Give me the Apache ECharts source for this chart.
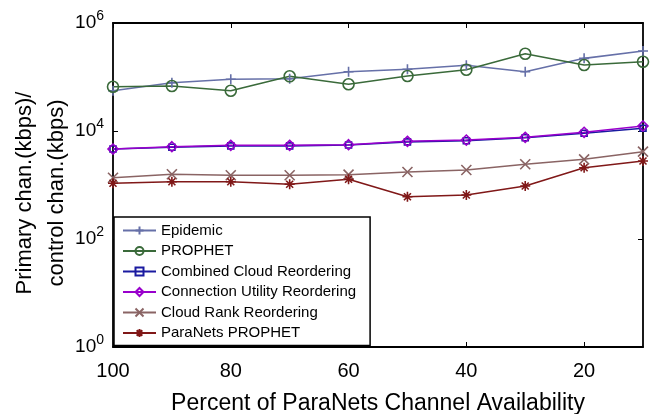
<!DOCTYPE html>
<html><head><meta charset="utf-8">
<script src="https://cdn.jsdelivr.net/npm/echarts@6/dist/echarts.min.js"></script>
<style>html,body{margin:0;padding:0;background:#fff}#c{width:650px;height:414px}</style>
</head><body><div id="c"></div>
<script>
const availability = [100, 90, 80, 70, 60, 50, 40, 30, 20, 10];
const epidemic = [55700, 78300, 90600, 93100, 125400, 139000, 164800, 125400, 221600, 302500];
const prophet = [66100, 68100, 55700, 103000, 73300, 104400, 136400, 270000, 166700, 191900];
const combinedCloud = [4640, 5000, 5300, 5300, 5500, 6300, 6600, 7500, 9060, 11220];
const connectionUtility = [4640, 5120, 5430, 5430, 5570, 6440, 6810, 7640, 9460, 12390];
const cloudRank = [1365, 1578, 1513, 1513, 1553, 1741, 1897, 2417, 2990, 4140];
const paraNetsProphet = [1075, 1150, 1150, 1030, 1275, 607, 653, 957, 2090, 2780];
const xTicks = [100, 80, 60, 40, 20];
const seriesNames = ['Epidemic', 'PROPHET', 'Combined Cloud Reordering', 'Connection Utility Reordering', 'Cloud Rank Reordering', 'ParaNets PROPHET'];

const font = '"Liberation Sans", Arial, sans-serif';
const pts = arr => availability.map((x, i) => [x, arr[i]]);
const plusPath = 'path://M5,0L5,10M0,5L10,5';
const crossPath = 'path://M0,0L10,10M10,0L0,10';
const starPath = 'path://M5,0L5,10M0,5L10,5M1.5,1.5L8.5,8.5M8.5,1.5L1.5,8.5';

function mk(name, data, color, symbol, size) {
  return {
    name, type: 'line', data: pts(data), symbol, symbolSize: size,
    lineStyle: { color, width: 1.6 },
    itemStyle: { color: 'rgba(0,0,0,0)', borderColor: color, borderWidth: 1.6 },
    emphasis: { disabled: true }, animation: false
  };
}

const chart = echarts.init(document.getElementById('c'));
chart.setOption({
  animation: false,
  grid: { left: 113, right: 7, top: 23, bottom: 67, outerBoundsMode: 'none', containLabel: false },
  legend: {
    orient: 'vertical', left: 114, top: 217,
    itemWidth: 33, itemHeight: 10, itemGap: 5.5,
    padding: [6, 14, 5, 8],
    backgroundColor: '#fff', borderColor: '#000', borderWidth: 1.5,
    textStyle: { fontFamily: font, fontSize: 15, color: '#000' },
    data: seriesNames
  },
  xAxis: [{
    type: 'value', inverse: true, min: 10, max: 100,
    name: 'Percent of ParaNets Channel Availability', nameLocation: 'middle', nameGap: 45,
    nameMoveOverlap: false,
    nameTextStyle: { fontFamily: font, fontSize: 23, color: '#000' },
    axisLine: { lineStyle: { color: '#000', width: 1.8 } },
    axisTick: { inside: true, length: 5, customValues: xTicks, lineStyle: { color: '#000' } },
    axisLabel: { customValues: xTicks, fontFamily: font, fontSize: 20, color: '#000', margin: 14 },
    splitLine: { show: false }
  }, {
    type: 'value', inverse: true, min: 10, max: 100, position: 'top',
    axisLine: { lineStyle: { color: '#000', width: 1.8 } },
    axisTick: { inside: true, length: 5, customValues: xTicks, lineStyle: { color: '#000' } },
    axisLabel: { show: false }, splitLine: { show: false }
  }],
  yAxis: [{
    type: 'log', logBase: 10, min: 1, max: 1e6, interval: 2,
    name: 'Primary chan.(kbps)/\ncontrol chan.(kbps)', nameLocation: 'middle', nameGap: 40,
    nameMoveOverlap: false,
    nameTextStyle: { fontFamily: font, fontSize: 22, color: '#000', lineHeight: 32, padding: [0, 16, 0, 0] },
    axisLine: { show: true, lineStyle: { color: '#000', width: 1.8 } },
    axisTick: { inside: true, length: 5, lineStyle: { color: '#000' } },
    axisLabel: {
      fontFamily: font, color: '#000', margin: 9,
      formatter: v => '{b|10}{e|' + Math.round(Math.log10(v)) + '}',
      rich: {
        b: { fontFamily: font, fontSize: 19, color: '#000' },
        e: { fontFamily: font, fontSize: 14, color: '#000', padding: [0, 0, 14, 0] }
      }
    },
    splitLine: { show: false }
  }, {
    type: 'log', logBase: 10, min: 1, max: 1e6, interval: 2, position: 'right',
    axisLine: { show: true, lineStyle: { color: '#000', width: 1.8 } },
    axisTick: { inside: true, length: 5, lineStyle: { color: '#000' } },
    axisLabel: { show: false }, splitLine: { show: false }
  }],
  series: [
    mk('Epidemic', epidemic, '#6670a8', plusPath, 10),
    mk('PROPHET', prophet, '#3a6a3a', 'circle', 11),
    mk('Combined Cloud Reordering', combinedCloud, '#1a1aa0', 'rect', 6),
    mk('Connection Utility Reordering', connectionUtility, '#9900cc', 'diamond', 10),
    mk('Cloud Rank Reordering', cloudRank, '#8a6464', crossPath, 10),
    mk('ParaNets PROPHET', paraNetsProphet, '#801818', starPath, 10)
  ]
});
</script></body></html>
